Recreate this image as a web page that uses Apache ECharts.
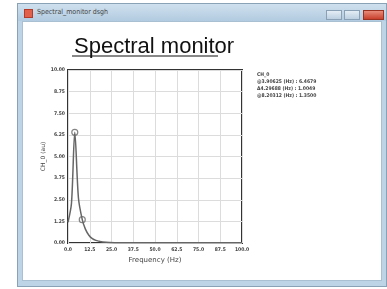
<!DOCTYPE html>
<html>
<head>
<meta charset="utf-8">
<script src="https://cdn.jsdelivr.net/npm/echarts@6/dist/echarts.min.js"></script>
<style>
  html, body { margin: 0; padding: 0; background: #fff; }
  #win {
    position: absolute; left: 17px; top: 3px; width: 370px; height: 284px;
    box-sizing: border-box; background: #bcd4e6; border: 1px solid #8aa2b6;
  }
  #bar { position: absolute; left: 0; top: 0; right: 0; height: 17px;
    background: linear-gradient(#cfe0ee, #b2cbe0); }
  #icon { position: absolute; left: 6px; top: 5px; width: 7px; height: 7px; background: #e0604a; border: 1px solid #b43a2a; }
  #cap { position: absolute; left: 19px; top: 4px; font: 7px "DejaVu Sans Condensed", "DejaVu Sans", sans-serif; color: #444; }
  .btn { position: absolute; top: 6px; height: 8px; border: 1px solid #8aa0b4; background: linear-gradient(#e4edf5, #bccfe0); }
  #content { position: absolute; left: 4px; top: 17px; right: 4px; bottom: 5px; background: #fff; border: 1px solid #a9c0d2; }
  #chart { position: absolute; left: 0; top: 0; width: 387px; height: 289px; }
</style>
</head>
<body>
<div id="win">
  <div id="bar"><div id="icon"></div><div id="cap">Spectral_monitor dsgh</div>
    <div class="btn" style="left:308px;width:14px"></div>
    <div class="btn" style="left:326px;width:14px"></div>
    <div class="btn" style="left:345px;width:19px;background:linear-gradient(#e88a7a,#c8402c);border-color:#9a3020"></div>
  </div>
  <div id="content"></div>
</div>
<div id="chart"></div>
<script>
// 频率 (Hz)
const freq = [0, 2, 3.9, 6, 8.2, 10, 12, 14, 16, 18, 20, 24, 30, 40, 50, 60, 70, 80, 90, 100];
// CH_0 幅值 (au)
const amp = [1.2, 2.3, 6.4, 2.6, 1.35, 0.8, 0.45, 0.25, 0.15, 0.1, 0.06, 0.03, 0.02, 0.02, 0.02, 0.02, 0.02, 0.02, 0.02, 0.02];
// 光标点
const cursorPts = [[3.9, 6.4], [8.2, 1.35]];
const readouts = ['CH_0', '@3.90625 (Hz) : 6.4679', 'Δ4.29688 (Hz) : 1.0049', '@8.20312 (Hz) : 1.3500'];
const xTicks = ['0.0', '12.5', '25.0', '37.5', '50.0', '62.5', '75.0', '87.5', '100.0'];
const yTicks = ['0.00', '1.25', '2.50', '3.75', '5.00', '6.25', '7.50', '8.75', '10.00'];

const chart = echarts.init(document.getElementById('chart'));
const lineData = freq.map((f, i) => [f, amp[i]]);
const smallFont = { fontFamily: 'DejaVu Sans Condensed', fontSize: 5, color: '#444', fontWeight: 'bold' };

const option = {
  animation: false,
  title: {
    text: 'Spectral monitor', left: 69, top: 31,
    textStyle: { fontFamily: 'Liberation Sans', fontSize: 22, fontWeight: 'normal', color: '#111' }
  },
  grid: { left: 68, right: 145, top: 70, bottom: 46, show: true, borderColor: '#333', borderWidth: 2 },
  xAxis: {
    type: 'value', min: 0, max: 100, interval: 12.5,
    name: 'Frequency (Hz)', nameLocation: 'middle', nameGap: 9,
    nameTextStyle: { fontFamily: 'DejaVu Sans', fontSize: 7, color: '#444' },
    axisLine: { show: false }, axisTick: { show: false },
    axisLabel: Object.assign({ margin: 4, formatter: (v) => xTicks[Math.round(v / 12.5)] }, smallFont),
    splitLine: { lineStyle: { color: '#dcdcdc', width: 1 } }
  },
  yAxis: {
    type: 'value', min: 0, max: 10, interval: 1.25,
    name: 'CH_0 (au)', nameLocation: 'middle', nameGap: 18, nameRotate: 90,
    nameTextStyle: { fontFamily: 'DejaVu Sans', fontSize: 6, color: '#444' },
    axisLine: { show: false }, axisTick: { show: false },
    axisLabel: Object.assign({ margin: 3, formatter: (v) => yTicks[Math.round(v / 1.25)] }, smallFont),
    splitLine: { lineStyle: { color: '#dcdcdc', width: 1 } }
  },
  series: [
    {
      type: 'line', data: lineData, smooth: 0.3, showSymbol: false,
      lineStyle: { color: '#666', width: 1.5 }
    },
    {
      type: 'scatter', data: cursorPts, symbol: 'circle', symbolSize: 6,
      itemStyle: { color: '#fff', borderColor: '#666', borderWidth: 1.2 }
    }
  ],
  graphic: [
    { type: 'rect', shape: { x: 72, y: 55, width: 146, height: 2 }, style: { fill: '#888' } },
    {
      type: 'text', left: 257, top: 71,
      style: {
        text: readouts.join('\n'), fontFamily: 'DejaVu Sans Condensed', fontSize: 5,
        fontWeight: 'bold', lineHeight: 7, fill: '#444'
      }
    }
  ]
};
chart.setOption(option);
</script>
</body>
</html>
